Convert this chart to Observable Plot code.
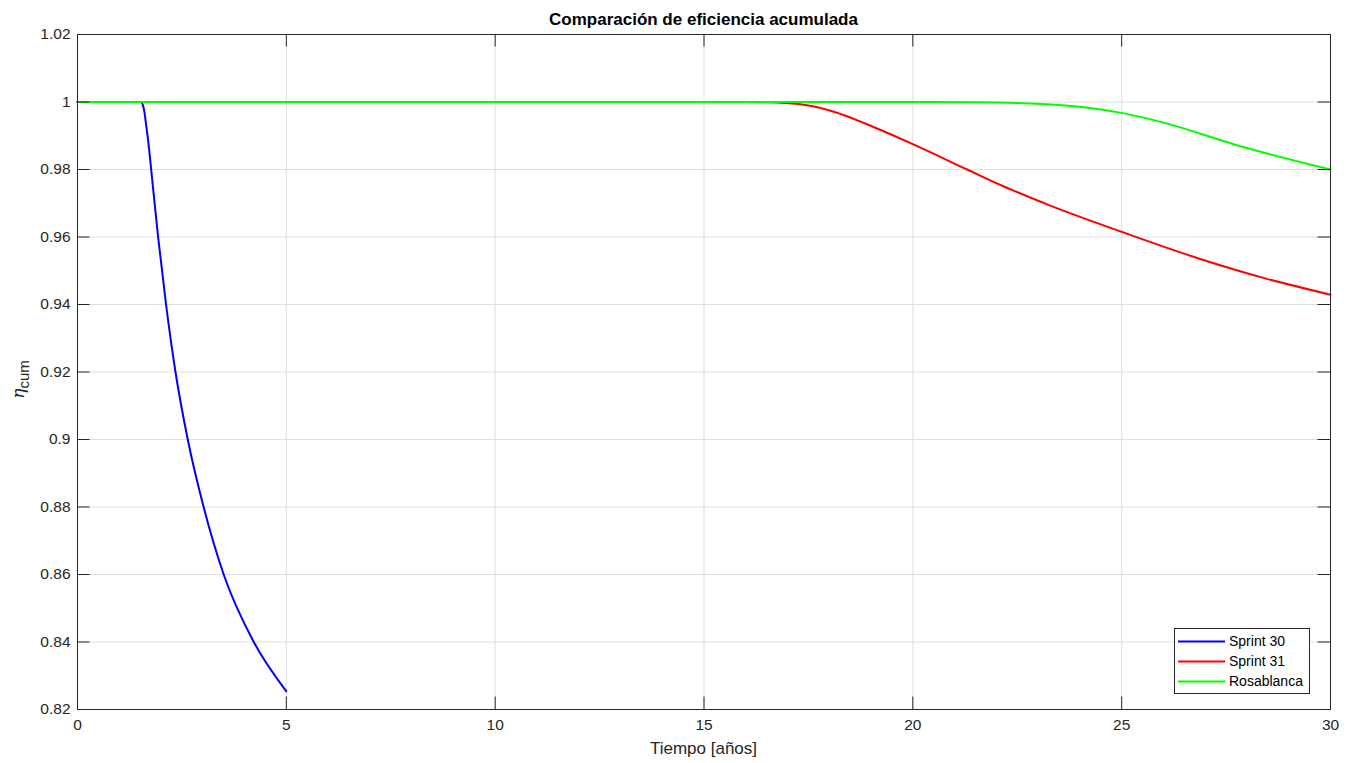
<!DOCTYPE html>
<html>
<head>
<meta charset="utf-8">
<script src="https://cdn.jsdelivr.net/npm/d3@7"></script>
<script src="https://cdn.jsdelivr.net/npm/@observablehq/plot@0.6"></script>
<style>
  html, body { margin: 0; padding: 0; background: #fff; }
  #wrap { position: relative; width: 1356px; height: 763px; font-family: "Liberation Sans", Arial, sans-serif; }
  #title { height: 24px; line-height: 39px; text-align: center; font-weight: bold; font-size: 17px; color: #000; overflow: visible; white-space: nowrap; padding-left: 51px; }
  #legend { position: absolute; left: 1174px; top: 628px; width: 134px; height: 64px; border: 1px solid #262626; background: #fff; font-size: 14px; color: #000; }
  .item { position: absolute; left: 0; height: 20px; line-height: 20px; white-space: nowrap; }
  .item svg { position: absolute; left: 3px; top: 9px; }
  .item span { position: absolute; left: 54px; top: 0; }
</style>
</head>
<body>
<div id="wrap">
  <div id="title">Comparación de eficiencia acumulada</div>
  <div id="chart"></div>
  <div id="legend"></div>
</div>
<script>
// ---- Data ----
const seriesNames = ["Sprint 30", "Sprint 31", "Rosablanca"];
const seriesColors = ["#0000ff", "#ff0000", "#00ff00"];

const sprint30Time = [0, 1.52, 1.56, 1.60, 1.64, 1.70, 1.764, 1.93, 2.12, 2.346, 2.64, 3.02, 3.50, 4.22, 5.0];
const sprint30Eta  = [1, 1, 0.9993, 0.9972, 0.9935, 0.9877, 0.98, 0.96, 0.94, 0.92, 0.90, 0.88, 0.86, 0.84, 0.8254];

const sprint31Time = [0, 16.0, 16.5, 17.31, 18.11, 18.9, 20.0, 21.3, 22.1, 23.29, 25.03, 26.88, 28.48, 30];
const sprint31Eta  = [1, 1, 0.99995, 0.9993, 0.9971, 0.9934, 0.9875, 0.98, 0.9754, 0.9693, 0.9614, 0.9535, 0.9476, 0.9429];

const rosablancaTime = [0, 20.5, 21.5, 22.5, 23.5, 24.5, 25.03, 26.09, 27.68, 30];
const rosablancaEta  = [1, 1, 0.99995, 0.9997, 0.9991, 0.9978, 0.9967, 0.9936, 0.9875, 0.98];

const xTicks = [0, 5, 10, 15, 20, 25, 30];
const yTicks = [0.82, 0.84, 0.86, 0.88, 0.90, 0.92, 0.94, 0.96, 0.98, 1.00, 1.02];
const yTickLabels = ["0.82", "0.84", "0.86", "0.88", "0.9", "0.92", "0.94", "0.96", "0.98", "1", "1.02"];
const xLabel = "Tiempo [años]";

// ---- Build table ----
const rows = [];
[[sprint30Time, sprint30Eta], [sprint31Time, sprint31Eta], [rosablancaTime, rosablancaEta]].forEach(([ts, vs], i) => {
  ts.forEach((t, j) => rows.push({ series: seriesNames[i], t, v: vs[j] }));
});

const W = 1356, H = 739;
const ml = 77, mr = 26, mt = 10, mb = 54;
const xDomain = [0, 30], yDomain = [0.82, 1.02];
const tickPx = 12.5;
const xTickLen = tickPx * (xDomain[1] - xDomain[0]) / (W - ml - mr);
const yTickLen = tickPx * (yDomain[1] - yDomain[0]) / (H - mt - mb);
const axisColor = "#262626";
const gridColor = "#dfdfdf";

const chart = Plot.plot({
  width: W, height: H,
  marginLeft: ml, marginRight: mr, marginTop: mt, marginBottom: mb,
  style: { fontFamily: "'Liberation Sans', Arial, sans-serif", fontSize: "15px", color: axisColor, background: "#fff", overflow: "visible" },
  x: { domain: xDomain, ticks: xTicks },
  y: { domain: yDomain, ticks: yTicks },
  color: { domain: seriesNames, range: seriesColors },
  marks: [
    Plot.gridX(xTicks, { stroke: gridColor, strokeOpacity: 1 }),
    Plot.gridY(yTicks, { stroke: gridColor, strokeOpacity: 1 }),
    Plot.line(rows, { x: "t", y: "v", z: "series", stroke: "series", strokeWidth: 2, curve: "monotone-x" }),
    Plot.ruleX(xTicks, { x: d => d, y1: yDomain[0], y2: yDomain[0] + yTickLen, stroke: axisColor }),
    Plot.ruleX(xTicks, { x: d => d, y1: yDomain[1], y2: yDomain[1] - yTickLen, stroke: axisColor }),
    Plot.ruleY(yTicks, { y: d => d, x1: xDomain[0], x2: xDomain[0] + xTickLen, stroke: axisColor }),
    Plot.ruleY(yTicks, { y: d => d, x1: xDomain[1], x2: xDomain[1] - xTickLen, stroke: axisColor }),
    Plot.frame({ stroke: axisColor, strokeWidth: 1 }),
    Plot.axisX(xTicks, { tickSize: 0, tickPadding: 9, label: null, fontSize: 15.5, fill: axisColor }),
    Plot.axisY(yTicks, { tickSize: 0, tickPadding: 7, label: null, tickFormat: (d) => yTickLabels[yTicks.indexOf(d)], fontSize: 15.5, fill: axisColor })
  ]
});
document.getElementById("chart").appendChild(chart);

// Axis labels
const svg = d3.select(chart);
svg.append("text")
  .attr("x", ml + (W - ml - mr) / 2)
  .attr("y", H - 9)
  .attr("text-anchor", "middle")
  .attr("fill", axisColor)
  .style("font-size", "17px")
  .text(xLabel);

const yl = svg.append("text")
  .attr("transform", `translate(24,${mt + (H - mt - mb) / 2 + 8}) rotate(-90)`)
  .attr("text-anchor", "middle")
  .attr("fill", axisColor)
  .style("font-size", "17px");
yl.append("tspan").style("font-style", "italic").style("font-family", "'DejaVu Serif', serif").text("η");
yl.append("tspan").attr("dy", 5).style("font-size", "15px").text("cum");

// Legend
const legend = document.getElementById("legend");
seriesNames.forEach((name, i) => {
  const it = document.createElement("div");
  it.className = "item";
  it.style.top = (2 + i * 20) + "px";
  it.innerHTML = `<svg width="48" height="3"><line x1="0" x2="47" y1="1.5" y2="1.5" stroke="${seriesColors[i]}" stroke-width="2"/></svg><span>${name}</span>`;
  legend.appendChild(it);
});
</script>
</body>
</html>
